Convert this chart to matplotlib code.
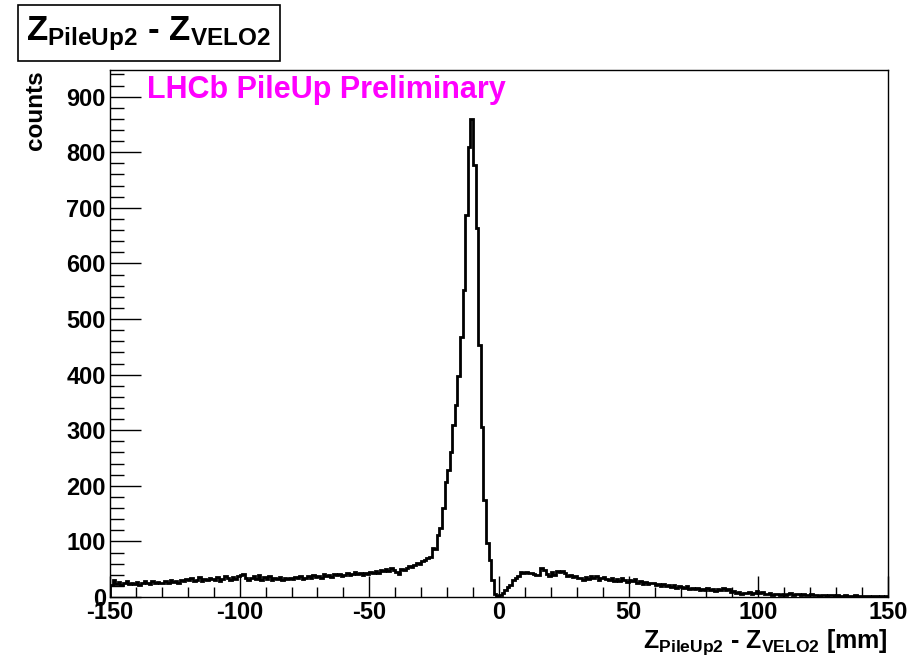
# Z PileUp2 - Z VELO2 residual histogram (ROOT style)
import matplotlib.pyplot as plt
import numpy as np

plt.rcParams['font.family'] = ['Liberation Sans', 'DejaVu Sans']
plt.rcParams['font.weight'] = 'bold'
plt.rcParams['axes.unicode_minus'] = False
plt.rcParams['mathtext.fontset'] = 'custom'
plt.rcParams['mathtext.rm'] = 'Liberation Sans:bold'
plt.rcParams['mathtext.bf'] = 'Liberation Sans:bold'
plt.rcParams['mathtext.it'] = 'Liberation Sans:bold'

# binning: 300 bins of 1 mm from -150 to 150
x_min, x_max, n_bins = -150, 150, 300

# counts per bin
counts_left = [  # -150 .. -40 mm
    22, 30, 24, 27, 22, 25, 28, 23, 26, 24,
    27, 22, 25, 29, 26, 24, 28, 25, 27, 26,
    25, 28, 26, 30, 27, 29, 26, 31, 28, 33,
    30, 34, 29, 31, 36, 28, 33, 30, 35, 32,
    31, 36, 29, 33, 38, 34, 30, 36, 33, 37,
    40, 42, 35, 30, 34, 38, 33, 39, 31, 36,
    33, 37, 30, 35, 32, 36, 31, 34, 33, 35,
    32, 36, 34, 38, 33, 35, 37, 34, 39, 36,
    38, 35, 41, 37, 40, 36, 42, 39, 41, 38,
    40, 44, 39, 42, 45, 41, 43, 40, 44, 42,
    45, 43, 47, 44, 48, 46, 50, 47, 52, 49,
]
counts_peak = [  # -40 .. 0 mm
    45, 42, 50, 48, 53, 56, 54, 58, 61, 60,
    64, 67, 70, 72, 88, 86, 112, 125, 160, 207,
    228, 261, 309, 345, 398, 468, 552, 687, 810, 860,
    777, 664, 453, 306, 175, 97, 66, 30, 6, 2,
]
counts_right = [  # 0 .. 150 mm
    3, 8, 12, 18, 22, 30, 34, 38, 45, 44,
    45, 43, 44, 41, 39, 40, 52, 48, 42, 37,
    45, 40, 47, 45, 46, 44, 38, 40, 36, 37,
    34, 35, 31, 36, 33, 38, 34, 37, 30, 35,
    36, 33, 30, 34, 28, 32, 29, 35, 30, 27,
    31, 28, 32, 26, 29, 24, 27, 23, 26, 25,
    22, 24, 20, 23, 19, 22, 18, 21, 17, 19,
    18, 16, 19, 15, 17, 14, 16, 12, 15, 13,
    16, 12, 14, 11, 15, 13, 16, 12, 14, 9,
    10, 7, 9, 6, 8, 7, 9, 6, 8, 10,
    7, 9, 6, 5, 7, 4, 6, 5, 3, 6,
    4, 5, 7, 4, 6, 5, 3, 6, 4, 3,
    5, 3, 4, 2, 4, 3, 2, 4, 3, 2,
    3, 2, 1, 3, 2, 1, 2, 3, 1, 2,
    1, 2, 1, 0, 2, 1, 0, 1, 0, 1,
]
counts = np.array(counts_left + counts_peak + counts_right)
edges = np.linspace(x_min, x_max, n_bins + 1)

fig = plt.figure(figsize=(9.08, 6.62), dpi=100)
ax = fig.add_axes([0.1211, 0.0982, 0.8569, 0.7961])

ax.stairs(counts, edges, color='black', linewidth=2.0)

ax.set_xlim(x_min, x_max)
ax.set_ylim(0, 948)
ax.set_xticks(np.arange(-150, 151, 50))
ax.set_xticks(np.arange(-150, 151, 10), minor=True)
ax.set_yticks(np.arange(0, 901, 100))
ax.set_yticks(np.arange(0, 941, 20), minor=True)

ax.tick_params(axis='both', which='both', direction='in', labelsize=17, width=1)
ax.tick_params(axis='x', which='major', length=15, pad=3)
ax.tick_params(axis='x', which='minor', length=7.5)
ax.tick_params(axis='y', which='major', length=22, pad=3)
ax.tick_params(axis='y', which='minor', length=10)
for lab in ax.get_xticklabels() + ax.get_yticklabels():
    lab.set_fontweight('bold')
for sp in ax.spines.values():
    sp.set_linewidth(1)

ax.set_ylabel('counts', fontsize=17.5, fontweight='bold', loc='top', labelpad=14)
ax.set_xlabel(r'$\mathbf{Z_{PileUp2}}$ - $\mathbf{Z_{VELO2}}$ [mm]', fontsize=18,
              fontweight='bold', loc='right', labelpad=2)

ax.text(0.048, 0.99, 'LHCb PileUp Preliminary', transform=ax.transAxes,
        color='#ff00ff', fontsize=22, fontweight='bold', va='top', ha='left')

fig.text(0.029, 0.95, r'$\mathbf{Z_{PileUp2}}$ - $\mathbf{Z_{VELO2}}$', fontsize=25,
         fontweight='bold', va='center', ha='left',
         bbox=dict(boxstyle='square,pad=0.25', facecolor='white', edgecolor='black', linewidth=1.2))

fig.savefig('out.png', dpi=100)
